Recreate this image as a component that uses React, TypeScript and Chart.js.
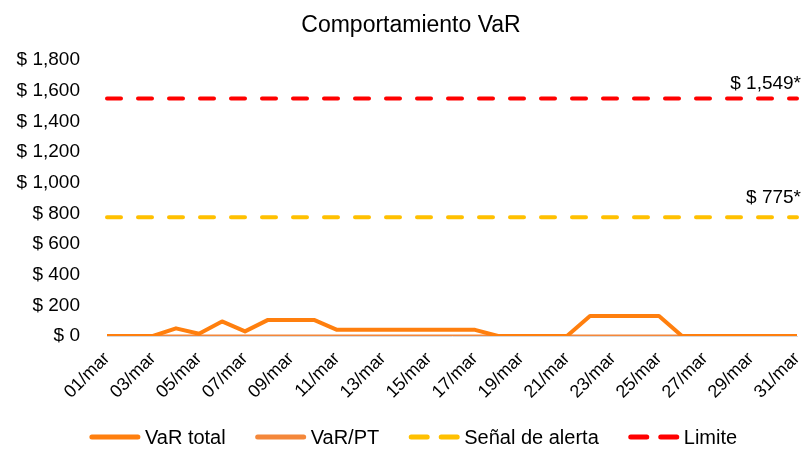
import React, { useEffect, useRef } from 'react';
import { Chart, registerables } from 'chart.js';

Chart.register(...registerables);

const categories = [
  '01/mar', '02/mar', '03/mar', '04/mar', '05/mar', '06/mar', '07/mar', '08/mar', '09/mar', '10/mar',
  '11/mar', '12/mar', '13/mar', '14/mar', '15/mar', '16/mar', '17/mar', '18/mar', '19/mar', '20/mar',
  '21/mar', '22/mar', '23/mar', '24/mar', '25/mar', '26/mar', '27/mar', '28/mar', '29/mar', '30/mar',
  '31/mar',
];

const varTotal = [
  0, 0, 0, 50, 15, 95, 30, 105, 105, 105,
  40, 40, 40, 40, 40, 40, 40, 0, 0, 0,
  0, 130, 130, 130, 130, 0, 0, 0, 0, 0,
  0,
];

const varPT = [
  0, 0, 0, 0, 0, 0, 0, 0, 0, 0,
  0, 0, 0, 0, 0, 0, 0, 0, 0, 0,
  0, 0, 0, 0, 0, 0, 0, 0, 0, 0,
  0,
];

const senalAlerta = [
  775, 775, 775, 775, 775, 775, 775, 775, 775, 775,
  775, 775, 775, 775, 775, 775, 775, 775, 775, 775,
  775, 775, 775, 775, 775, 775, 775, 775, 775, 775,
  775,
];

const limite = [
  1549, 1549, 1549, 1549, 1549, 1549, 1549, 1549, 1549, 1549,
  1549, 1549, 1549, 1549, 1549, 1549, 1549, 1549, 1549, 1549,
  1549, 1549, 1549, 1549, 1549, 1549, 1549, 1549, 1549, 1549,
  1549,
];

const seriesNames = ['VaR total', 'VaR/PT', 'Señal de alerta', 'Limite'];
const thresholdLabels = ['$ 1,549*', '$ 775*'];
const yTicks = { min: 0, max: 1800, step: 200 };
const title = 'Comportamiento VaR';

const FONT = '"Liberation Sans", Arial, sans-serif';

const overlayPlugin = {
  id: 'overlay',
  afterDraw(chart: any) {
    const ctx = chart.ctx;
    const yScale = chart.scales.y;
    ctx.save();
    // Title
    ctx.fillStyle = '#000';
    ctx.font = `23px ${FONT}`;
    ctx.textAlign = 'center';
    ctx.textBaseline = 'middle';
    ctx.fillText(title, 411, 26);

    // Threshold labels
    ctx.font = `19px ${FONT}`;
    ctx.textAlign = 'right';
    const yL = yScale.getPixelForValue(limite[limite.length - 1]);
    const yA = yScale.getPixelForValue(senalAlerta[senalAlerta.length - 1]);
    ctx.fillText(thresholdLabels[0], 801, yL - 15);
    ctx.fillText(thresholdLabels[1], 801, yA - 19);

    // Legend
    const ds = chart.data.datasets;
    ctx.font = `20px ${FONT}`;
    ctx.textAlign = 'left';
    const sample = 52, gapText = 4, gapItem = 29;
    const widths = ds.map((d: any) => sample + gapText + ctx.measureText(d.label).width);
    const total = widths.reduce((a: number, b: number) => a + b, 0) + gapItem * (ds.length - 1);
    let x = 413 - total / 2;
    const y = 437;
    ds.forEach((d: any, i: number) => {
      ctx.save();
      ctx.strokeStyle = d.borderColor;
      ctx.lineWidth = 5;
      ctx.lineCap = 'round';
      if (d.borderDash && d.borderDash.length) ctx.setLineDash([16, 14]);
      ctx.beginPath();
      ctx.moveTo(x + 3, y);
      ctx.lineTo(x + sample - 3, y);
      ctx.stroke();
      ctx.restore();
      ctx.fillStyle = '#000';
      ctx.fillText(d.label, x + sample + gapText, y + 1);
      x += widths[i] + gapItem;
    });
    ctx.restore();
  },
};

export default function App() {
  const ref = useRef<HTMLCanvasElement | null>(null);

  useEffect(() => {
    document.body.style.margin = '0';
    const canvas = ref.current;
    if (!canvas) return;
    const chart = new Chart(canvas, {
      type: 'line',
      data: {
        labels: categories,
        datasets: [
          {
            label: seriesNames[0],
            data: varTotal,
            borderColor: '#FF7F0E',
            backgroundColor: '#FF7F0E',
            borderWidth: 4,
            pointRadius: 0,
            tension: 0,
            borderJoinStyle: 'round',
          },
          {
            label: seriesNames[1],
            data: varPT,
            borderColor: '#F4873A',
            backgroundColor: '#F4873A',
            borderWidth: 3,
            pointRadius: 0,
            tension: 0,
          },
          {
            label: seriesNames[2],
            data: senalAlerta,
            borderColor: '#FFC000',
            backgroundColor: '#FFC000',
            borderWidth: 4,
            borderDash: [14, 17],
            borderCapStyle: 'round',
            pointRadius: 0,
            tension: 0,
          },
          {
            label: seriesNames[3],
            data: limite,
            borderColor: '#FF0000',
            backgroundColor: '#FF0000',
            borderWidth: 4,
            borderDash: [14, 17],
            borderCapStyle: 'round',
            pointRadius: 0,
            tension: 0,
          },
        ],
      },
      options: {
        animation: false,
        responsive: true,
        maintainAspectRatio: false,
        layout: { padding: { top: 60, right: 10, bottom: 37, left: 0 } },
        plugins: {
          legend: { display: false },
          title: { display: false },
          tooltip: { enabled: false },
        },
        scales: {
          x: {
            offset: false,
            grid: { display: false },
            border: { display: true, color: '#D9D9D9', width: 1 },
            ticks: {
              autoSkip: false,
              minRotation: 45,
              maxRotation: 45,
              padding: 4,
              color: '#000',
              font: { family: FONT, size: 18 },
              callback: (_v: any, i: number) => (i % 2 === 0 ? categories[i] : ''),
            },
            afterFit: (scale: any) => {
              scale.height = 80;
              scale.paddingRight = 0;
              scale.paddingLeft = 0;
            },
          },
          y: {
            min: yTicks.min,
            max: yTicks.max,
            grid: { display: false },
            border: { display: false },
            ticks: {
              stepSize: yTicks.step,
              padding: 19,
              color: '#000',
              font: { family: FONT, size: 19 },
              callback: (v: any) => '$ ' + Number(v).toLocaleString('en-US'),
            },
            afterFit: (scale: any) => {
              scale.width = 107;
            },
          },
        },
      },
      plugins: [overlayPlugin],
    });
    return () => chart.destroy();
  }, []);

  return (
    <div style={{ position: 'relative', width: 807, height: 453 }}>
      <canvas ref={ref} />
    </div>
  );
}
